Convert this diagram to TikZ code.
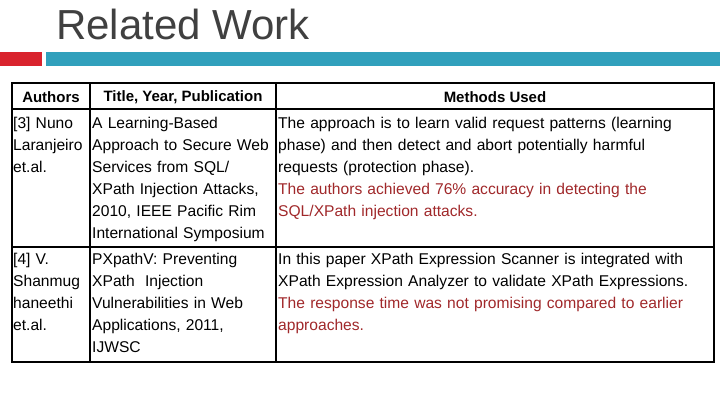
\documentclass[tikz,border=0pt]{standalone}
\usepackage{fontspec}
\setmainfont{Liberation Sans}
\usetikzlibrary{positioning}
\definecolor{barred}{HTML}{D9232D}
\definecolor{barblue}{HTML}{31A0BC}
\definecolor{notered}{HTML}{A0282A}
\definecolor{titlegray}{HTML}{404040}
\begin{document}
\begin{tikzpicture}[x=1pt, y=-1pt, font=\fontsize{15.6}{22}\selectfont,
    cell/.style={anchor=north west, inner sep=0pt, align=left},
    head/.style={anchor=center, inner sep=0pt}]
        \useasboundingbox (0,0) rectangle (720,405);
        % title and bars
        \node[anchor=west, inner sep=0pt, font=\fontsize{42}{42}\selectfont, text=titlegray] (title) at (56,24) {Related Work};
        \fill[barred] (0,52) rectangle (42,66);
        \fill[barblue] (46,52) rectangle (720,66);
        % grid
        \draw[line width=1.3pt] (12,83) rectangle (714,362);
        \draw[line width=1.3pt] (12,109) -- (714,109) (12,247) -- (714,247)
            (90,83) -- (90,362) (276,83) -- (276,362);
        % header
        \node[head, font=\fontsize{15}{22}\bfseries] (hauth) at (51,97) {Authors};
        \node[head, font=\fontsize{15}{22}\bfseries] (htitle) at (183,97) {Title, Year, Publication};
        \node[head, font=\fontsize{15}{22}\bfseries] (hmeth) at (495,97) {Methods Used};
        % row one
        \node[cell, text width=76pt] (auth3) at (13,117) {[3] Nuno\\Laranjeiro\\et.al.};
        \node[cell, text width=184pt] (title3) at (92,117) {A Learning-Based\\Approach to Secure Web\\Services from SQL/\\XPath Injection Attacks,\\2010, IEEE Pacific Rim\\International Symposium};
        \node[cell, text width=434pt] (meth3) at (278,117) {The approach is to learn valid request patterns (learning\\phase) and then detect and abort potentially harmful\\requests (protection phase).\\\textcolor{notered}{The authors achieved 76\% accuracy in detecting the}\\\textcolor{notered}{SQL/XPath injection attacks.}};
        % row two
        \node[cell, text width=76pt] (auth4) at (13,253) {[4] V.\\Shanmug\\haneethi\\et.al.};
        \node[cell, text width=184pt] (title4) at (92,253) {PXpathV: Preventing\\XPath\ \ Injection\\Vulnerabilities in Web\\Applications, 2011,\\IJWSC};
        \node[cell, text width=434pt] (meth4) at (278,253) {In this paper XPath Expression Scanner is integrated with\\XPath Expression Analyzer to validate XPath Expressions.\\\textcolor{notered}{The response time was not promising compared to earlier}\\\textcolor{notered}{approaches.}};
\end{tikzpicture}
\end{document}
